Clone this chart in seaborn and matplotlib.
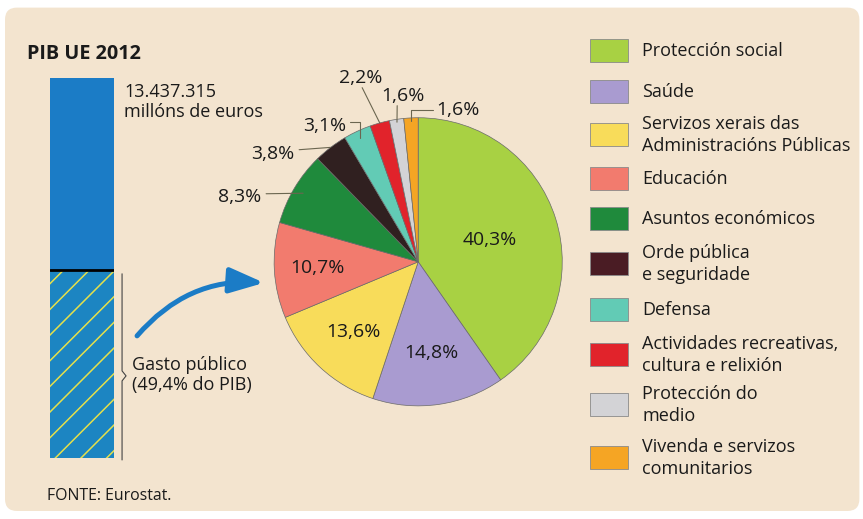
import numpy as np
import pandas as pd
import matplotlib
matplotlib.use("Agg")
import matplotlib.pyplot as plt
import seaborn as sns
from matplotlib.patches import FancyBboxPatch, Rectangle, FancyArrowPatch

# ---------------- data ----------------
title = "PIB UE 2012"
gdp_label = "13.437.315\nmillóns de euros"
gdp_total_pct = [100.0]
public_spending_pct = [49.4]
spending_label = "Gasto público\n(49,4% do PIB)"
source_label = "FONTE: Eurostat."

categories = [
    "Protección social",
    "Saúde",
    "Servizos xerais das\nAdministracións Públicas",
    "Educación",
    "Asuntos económicos",
    "Orde pública\ne seguridade",
    "Defensa",
    "Actividades recreativas,\ncultura e relixión",
    "Protección do\nmedio",
    "Vivenda e servizos\ncomunitarios",
]
shares = [40.3, 14.8, 13.6, 10.7, 8.3, 3.8, 3.1, 2.2, 1.6, 1.6]
colors = ["#a8d143", "#a99bd0", "#f8dc5a", "#f27b6e", "#1f8a3c",
          "#302020", "#62cbb5", "#e1232b", "#d3d3d6", "#f5a524"]
legend_colors = ["#a8d143", "#a99bd0", "#f8dc5a", "#f27b6e", "#1f8a3c",
                 "#4a1c24", "#62cbb5", "#e1232b", "#d3d3d6", "#f5a524"]

# ---------------- layout ----------------
W, H = 863, 519
DPI = 77                      # lower dpi -> denser hatch; sizes rescaled below
S = 100.0 / DPI               # point scale so sizes look as at 100 dpi


def pt(v):
    return v * S


sns.set_theme(style="white")
plt.rcParams['font.family'] = ['Open Sans', 'DejaVu Sans']
plt.rcParams['hatch.linewidth'] = pt(1.1)

BG = "#f3e4cf"
BLUE = "#1b7cc6"
TXT = "#1a1a1a"
FS = pt(13.0)
FS_PCT = pt(14.0)

fig = plt.figure(figsize=((W + 0.4) / DPI, (H + 0.4) / DPI), dpi=DPI)
fig.patch.set_facecolor("white")

# background panel
bg = fig.add_axes([0, 0, 1, 1], zorder=0)
bg.set_xlim(0, W); bg.set_ylim(H, 0); bg.axis("off")
bg.add_patch(FancyBboxPatch((5, 8), 854, 503, boxstyle="round,pad=0,rounding_size=12",
                            facecolor=BG, edgecolor="none"))

# ---- GDP bar (seaborn) ----
bx0, bx1, by0, by1 = 50, 114, 78, 458
axb = fig.add_axes([bx0 / W, 1 - by1 / H, (bx1 - bx0) / W, (by1 - by0) / H], zorder=1)
sns.barplot(x=["PIB"], y=gdp_total_pct, color=BLUE, width=1, saturation=1,
            ax=axb, linewidth=0)
n_before = len(axb.patches)
sns.barplot(x=["PIB"], y=public_spending_pct, color="#1c85c2", width=1, saturation=1,
            ax=axb, linewidth=0)
for p in axb.patches[n_before:]:
    p.set_hatch("/")
    p.set_edgecolor("#e6e04a")
    p.set_linewidth(0)
axb.axhline(public_spending_pct[0], color="black", lw=pt(2))
axb.set_xlim(-0.5, 0.5)
axb.set_ylim(0, gdp_total_pct[0])
axb.axis("off")
axb.patch.set_alpha(0)

# ---- pie ----
CX, CY, R = 418, 262, 144
axp = fig.add_axes([(CX - R) / W, 1 - (CY + R) / H, 2 * R / W, 2 * R / H], zorder=1)
wedges, _ = axp.pie(shares, colors=colors, startangle=90, counterclock=False,
                    wedgeprops=dict(edgecolor="#6a6a6a", linewidth=pt(0.5)))
axp.set_xlim(-1, 1); axp.set_ylim(-1, 1); axp.set_aspect("equal")
axp.axis("off")


def fmt(v):
    return f"{v:.1f}".replace(".", ",") + "%"


def mid_px(w, r):
    a = np.deg2rad((w.theta1 + w.theta2) / 2)
    return CX + r * R * np.cos(a), CY - r * R * np.sin(a)


# overlay for text / annotations in pixel coordinates
ov = fig.add_axes([0, 0, 1, 1], zorder=3)
ov.set_xlim(0, W); ov.set_ylim(H, 0); ov.axis("off"); ov.patch.set_alpha(0)

# inside labels
inside_r = {0: 0.52, 1: 0.64, 2: 0.66, 3: 0.70}
for i, r in inside_r.items():
    x, y = mid_px(wedges[i], r)
    ov.text(x, y, fmt(shares[i]), ha="center", va="center", fontsize=FS_PCT, color=TXT)

# outside labels with leader lines
LC = "#6b6650"
# (text x, text y, ha, leader start, leader kind, target radius)
outside = {
    4: (261, 197, "right", (266, 194), "straight", 0.93),
    5: (294, 154, "right", (299, 150), "straight", 1.0),
    6: (346, 126, "right", (350, 122), "elbow", 0.95),
    7: (361, 78, "center", (362, 88), "straight", 1.0),
    8: (403, 96, "center", (397, 106), "straight", 0.98),
    9: (436, 110, "left", (433, 110), "elbow", 0.98),
}
for i, (tx, ty, ha, (sx, sy), kind, r) in outside.items():
    ex, ey = mid_px(wedges[i], r)
    ov.text(tx, ty, fmt(shares[i]), ha=ha, va="center", fontsize=FS_PCT, color=TXT)
    if kind == "straight":
        ov.plot([sx, ex], [sy, ey], color=LC, lw=pt(0.8))
    else:
        ov.plot([sx, ex, ex], [sy, sy, ey], color=LC, lw=pt(0.8))

# titles and bar annotations
ov.text(27, 54, title, ha="left", va="center", fontsize=pt(14.3), fontweight="bold", color=TXT)
ov.text(124, 102, gdp_label, ha="left", va="center", fontsize=FS, color=TXT, linespacing=1.2)
ov.text(132, 374.5, spending_label, ha="left", va="center", fontsize=FS, color=TXT, linespacing=1.15)
ov.text(47, 496, source_label, ha="left", va="center", fontsize=pt(11.4), color=TXT)
ov.plot([122, 122, 126, 122, 122], [274, 371, 376, 381, 460], color="#444444", lw=pt(0.8))

arrow = FancyArrowPatch((137, 336), (264, 283), connectionstyle="arc3,rad=-0.25",
                        arrowstyle="-|>,head_length=1.5,head_width=0.55", mutation_scale=pt(14),
                        color=BLUE, lw=pt(3.6), shrinkA=0, shrinkB=0)
ov.add_patch(arrow)

# legend
row_centers = [51, 92, 134.5, 179, 219, 264, 310, 355, 405, 458]
for c, lab, yc in zip(legend_colors, categories, row_centers):
    ov.add_patch(Rectangle((590, yc - 11.5), 38, 23, facecolor=c, edgecolor="#8a8a8a", lw=pt(0.6)))
    ov.text(642, yc, lab, ha="left", va="center", fontsize=FS, color=TXT, linespacing=1.3)

fig.savefig("out.png", dpi=DPI)
